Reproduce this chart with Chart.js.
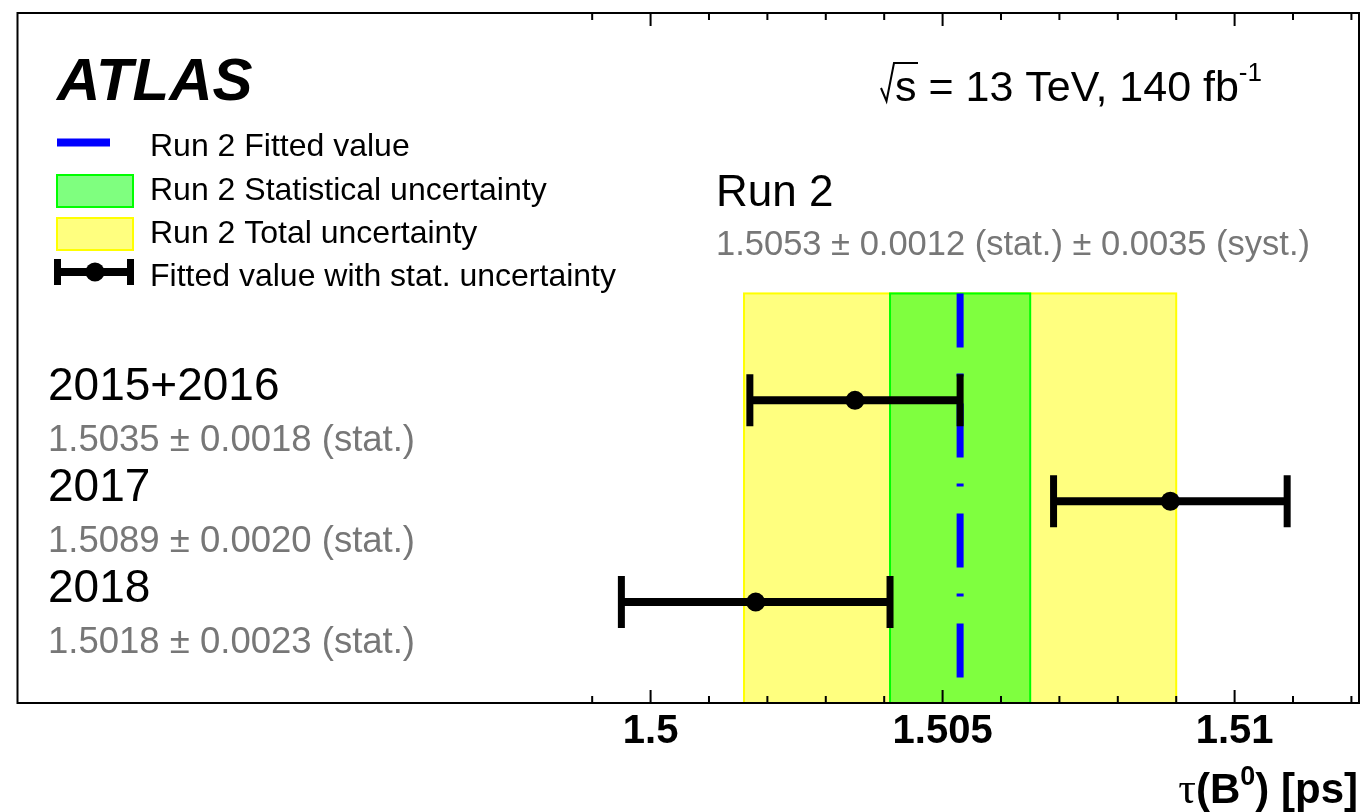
<!DOCTYPE html>
<html>
<head>
<meta charset="utf-8">
<title>B0 lifetime per period</title>
<script src="https://cdn.jsdelivr.net/npm/chart.js@4.4.1/dist/chart.umd.min.js"></script>
<style>
  html, body { margin: 0; padding: 0; background: #fff; }
  #wrap { width: 1362px; height: 812px; }
</style>
</head>
<body>
<div id="wrap"><canvas id="lifetime" width="1362" height="812"></canvas></div>
<script>
// fitted B0 lifetime for each data-taking period, in ps
const periods = ['2015+2016', '2017', '2018'];
const fittedValues = [1.5035, 1.5089, 1.5018];
const statErrors = [0.0018, 0.0020, 0.0023];
const rows = [3, 2, 1];

// combined Run 2 result
const run2Value = 1.5053;
const run2Stat = 0.0012;
const run2Syst = 0.0035;
const run2Total = 0.0037;
const bandTop = 4.06;

// axis ticks
const majorTicks = [1.5, 1.505, 1.51];
const tickLabels = ['1.5', '1.505', '1.51'];
const minorTicks = [1.499, 1.501, 1.502, 1.503, 1.504, 1.506, 1.507, 1.508, 1.509, 1.511, 1.512];

const legendItems = [
  'Run 2 Fitted value',
  'Run 2 Statistical uncertainty',
  'Run 2 Total uncertainty',
  'Fitted value with stat. uncertainty'
];

const SANS = '"Liberation Sans", Arial, Helvetica, sans-serif';
const GREY = '#777777';
const YELLOW_FILL = 'rgba(255,255,0,0.5)';
const GREEN_FILL = 'rgba(0,255,0,0.5)';

function fmt(v) { return v.toFixed(4); }

// draws a sequence of text pieces with their own fonts, returns end x
function drawRuns(ctx, runs, x, y, align) {
  let w = 0;
  runs.forEach(r => { ctx.font = r.font; w += ctx.measureText(r.text).width; });
  let cx = align === 'right' ? x - w : x;
  ctx.textAlign = 'left';
  runs.forEach(r => {
    ctx.font = r.font;
    ctx.fillStyle = r.color || '#000';
    ctx.fillText(r.text, cx, y + (r.dy || 0));
    cx += ctx.measureText(r.text).width;
  });
  return cx;
}

function band(ctx, x, y, lo, hi, fill, stroke) {
  const l = x.getPixelForValue(lo), r = x.getPixelForValue(hi);
  const t = y.getPixelForValue(bandTop), b = y.getPixelForValue(0);
  ctx.fillStyle = fill;
  ctx.fillRect(l, t, r - l, b - t);
  ctx.strokeStyle = stroke;
  ctx.lineWidth = 2;
  ctx.strokeRect(l, t, r - l, b - t);
}

const decorations = {
  id: 'decorations',
  beforeDatasetsDraw(chart) {
    const { ctx, scales: { x, y } } = chart;
    ctx.save();
    band(ctx, x, y, run2Value - run2Total, run2Value + run2Total, YELLOW_FILL, '#ffff00');
    band(ctx, x, y, run2Value - run2Stat, run2Value + run2Stat, GREEN_FILL, '#00ff00');
    ctx.restore();
  },
  afterDatasetsDraw(chart) {
    const { ctx, chartArea: a, scales: { x, y } } = chart;
    ctx.save();

    // frame
    ctx.strokeStyle = '#000';
    ctx.lineWidth = 2;
    ctx.strokeRect(a.left, a.top, a.right - a.left, a.bottom - a.top);

    // ticks on bottom and top edges, pointing inwards
    ctx.lineWidth = 2;
    ctx.beginPath();
    majorTicks.forEach(v => {
      const px = x.getPixelForValue(v);
      ctx.moveTo(px, a.bottom); ctx.lineTo(px, a.bottom - 13);
      ctx.moveTo(px, a.top); ctx.lineTo(px, a.top + 13);
    });
    minorTicks.forEach(v => {
      const px = x.getPixelForValue(v);
      ctx.moveTo(px, a.bottom); ctx.lineTo(px, a.bottom - 7);
      ctx.moveTo(px, a.top); ctx.lineTo(px, a.top + 7);
    });
    ctx.stroke();

    // tick labels
    ctx.fillStyle = '#000';
    ctx.textAlign = 'center';
    ctx.textBaseline = 'alphabetic';
    ctx.font = 'bold 40px ' + SANS;
    majorTicks.forEach((v, i) => ctx.fillText(tickLabels[i], x.getPixelForValue(v), 743));

    // axis title
    drawRuns(ctx, [
      { text: 'τ', font: '44px "Liberation Serif", serif' },
      { text: '(B', font: 'bold 42px ' + SANS },
      { text: '0', font: 'bold 27px ' + SANS, dy: -18 },
      { text: ') [ps]', font: 'bold 42px ' + SANS }
    ], 1358, 803, 'right');

    // experiment label
    ctx.textAlign = 'left';
    ctx.font = 'bold italic 60px ' + SANS;
    ctx.fillText('ATLAS', 57, 100);

    // centre-of-mass energy and luminosity
    ctx.lineWidth = 2;
    ctx.beginPath();
    ctx.moveTo(881, 88);
    ctx.lineTo(886.5, 101);
    ctx.lineTo(894, 63);
    ctx.lineTo(918, 63);
    ctx.stroke();
    drawRuns(ctx, [
      { text: 's = 13 TeV, 140 fb', font: '43px ' + SANS },
      { text: '-1', font: '26px ' + SANS, dy: -20 }
    ], 895, 101, 'left');

    // legend
    const lx0 = 57, lx1 = 133;
    ctx.strokeStyle = '#0000ff';
    ctx.lineWidth = 8;
    ctx.beginPath(); ctx.moveTo(lx0, 142.5); ctx.lineTo(110, 142.5); ctx.stroke();

    ctx.lineWidth = 2;
    ctx.fillStyle = GREEN_FILL;
    ctx.fillRect(lx0, 175, lx1 - lx0, 32);
    ctx.strokeStyle = '#00ff00';
    ctx.strokeRect(lx0, 175, lx1 - lx0, 32);

    ctx.fillStyle = YELLOW_FILL;
    ctx.fillRect(lx0, 218, lx1 - lx0, 32);
    ctx.strokeStyle = '#ffff00';
    ctx.strokeRect(lx0, 218, lx1 - lx0, 32);

    ctx.strokeStyle = '#000';
    ctx.lineWidth = 8;
    ctx.beginPath(); ctx.moveTo(55, 272); ctx.lineTo(133, 272); ctx.stroke();
    ctx.lineWidth = 7;
    ctx.beginPath();
    ctx.moveTo(57.5, 259); ctx.lineTo(57.5, 285);
    ctx.moveTo(130.5, 259); ctx.lineTo(130.5, 285);
    ctx.stroke();
    ctx.fillStyle = '#000';
    ctx.beginPath(); ctx.arc(95, 272, 9.5, 0, Math.PI * 2); ctx.fill();

    ctx.font = '32px ' + SANS;
    const legendBase = [156, 199.5, 243, 286];
    legendItems.forEach((t, i) => ctx.fillText(t, 150, legendBase[i]));

    // Run 2 summary
    ctx.font = '44px ' + SANS;
    ctx.fillText('Run 2', 716, 206);
    ctx.font = '34.5px ' + SANS;
    ctx.fillStyle = GREY;
    ctx.fillText(`${fmt(run2Value)} ± ${fmt(run2Stat)} (stat.) ± ${fmt(run2Syst)} (syst.)`, 716, 255);

    // per-period labels
    periods.forEach((p, i) => {
      const py = y.getPixelForValue(rows[i]);
      ctx.fillStyle = '#000';
      ctx.font = '46px ' + SANS;
      ctx.fillText(p, 48, py);
      ctx.fillStyle = GREY;
      ctx.font = '36.5px ' + SANS;
      ctx.fillText(`${fmt(fittedValues[i])} ± ${fmt(statErrors[i])} (stat.)`, 48, py + 51);
    });

    ctx.restore();
  }
};

const errorBars = periods.map((p, i) => ({
  type: 'line',
  label: p,
  data: [
    { x: fittedValues[i] - statErrors[i], y: rows[i] },
    { x: fittedValues[i] + statErrors[i], y: rows[i] }
  ],
  borderColor: '#000',
  borderWidth: 8,
  pointStyle: 'line',
  rotation: 90,
  pointRadius: 26,
  pointBorderWidth: 7,
  pointBorderColor: '#000',
  order: 1
}));

const centres = {
  type: 'scatter',
  label: 'fitted',
  data: fittedValues.map((v, i) => ({ x: v, y: rows[i] })),
  pointRadius: 9.5,
  pointBackgroundColor: '#000',
  pointBorderWidth: 0,
  order: 0
};

const run2Line = {
  type: 'line',
  label: 'Run 2',
  data: [{ x: run2Value, y: bandTop }, { x: run2Value, y: 0 }],
  borderColor: '#0000ff',
  borderWidth: 7,
  borderDash: [54, 26, 3, 27],
  borderCapStyle: 'butt',
  pointRadius: 0,
  order: 2
};

new Chart(document.getElementById('lifetime'), {
  type: 'scatter',
  data: { datasets: [run2Line, ...errorBars, centres] },
  options: {
    responsive: false,
    animation: false,
    events: [],
    layout: { autoPadding: false, padding: { left: 17.5, top: 13, right: 3, bottom: 109 } },
    plugins: { legend: { display: false }, tooltip: { enabled: false } },
    scales: {
      x: { type: 'linear', min: 1.48916, max: 1.51213, display: false },
      y: { type: 'linear', min: 0, max: 6.84, display: false }
    }
  },
  plugins: [decorations]
});
</script>
</body>
</html>
